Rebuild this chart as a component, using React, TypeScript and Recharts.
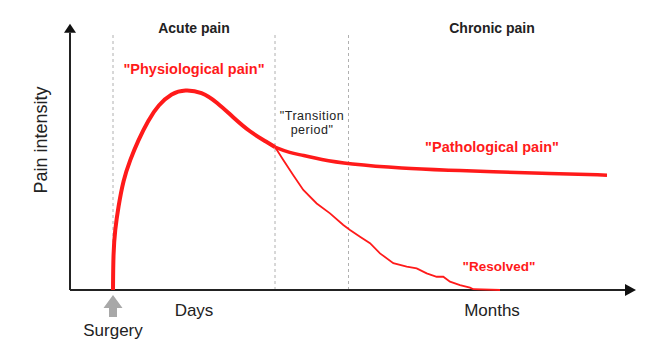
import { Line, LineChart, ReferenceDot, ReferenceLine, XAxis, YAxis } from "recharts";

// time axis is in arbitrary units, surgery at 43
const acuteX = [43, 43.3, 45, 48.3, 53.3, 60, 68.3, 78.3, 88.3, 101.7, 115, 131.7, 147, 163, 180, 197, 205];
const acuteY = [0, 14.2, 23.1, 31.9, 42.3, 50, 57.7, 65.4, 71.2, 75.8, 77.2, 76.3, 72.3, 66.5, 60.8, 56.9, 55];

const chronicX = [205, 220, 233, 250, 278, 333, 380, 420, 480, 537];
const chronicY = [55, 52.7, 51.9, 50.2, 48.5, 46.8, 46.1, 45.5, 44.9, 44.2];

const resolvedX = [205, 213.3, 223.3, 233.3, 246.7, 260, 273.3, 280, 290, 300, 310, 323.3, 336.7, 346.7, 356.7, 366.7, 373.3, 380, 390, 400, 403.3, 430];
const resolvedY = [55, 50, 44.2, 38.5, 33.3, 29.5, 25, 23.1, 20.5, 18, 14.1, 10.3, 9, 8.3, 6.4, 5.1, 5.1, 3.2, 1.9, 0.9, 0.3, 0];

const phaseX = [43, 205, 278.5];
const tickX = [43, 124, 422];
const tickLabels = ["Surgery", "Days", "Months"];

const acute = acuteX.map((x, i) => ({ x, y: acuteY[i] }));
const chronic = chronicX.map((x, i) => ({ x, y: chronicY[i] }));
const resolved = resolvedX.map((x, i) => ({ x, y: resolvedY[i] }));

const RED = "#ff1a1a";
const FONT = "'Liberation Sans', Arial, sans-serif";

const notes = [
  { x: 124, y: 98.8, text: "Acute pain", color: "#222", size: 14, bold: true },
  { x: 422, y: 98.8, text: "Chronic pain", color: "#222", size: 14, bold: true },
  { x: 124, y: 83.1, text: "\"Physiological pain\"", color: RED, size: 14.5, bold: true },
  { x: 422, y: 53.1, text: "\"Pathological pain\"", color: RED, size: 14.5, bold: true },
  { x: 429, y: 7.3, text: "\"Resolved\"", color: RED, size: 13.5, bold: true },
];

const Note = (n: (typeof notes)[number]) => (props: any) => (
  <text x={props.cx} y={props.cy} textAnchor="middle" fill={n.color} fontSize={n.size} fontWeight={n.bold ? 700 : 400} fontFamily={FONT}>
    {n.text}
  </text>
);

const Tick = ({ x, y, index }: any) => {
  if (index === 0) {
    return (
      <g>
        <polygon points={`${x},${y + 5} ${x + 9.5},${y + 18} ${x + 4},${y + 18} ${x + 4},${y + 27} ${x - 4},${y + 27} ${x - 4},${y + 18} ${x - 9.5},${y + 18}`} fill="#a8a8a8" />
        <text x={x} y={y + 46} textAnchor="middle" fontSize={17} fill="#222" fontFamily={FONT}>{tickLabels[index]}</text>
      </g>
    );
  }
  return <text x={x} y={y + 26} textAnchor="middle" fontSize={17} fill="#222" fontFamily={FONT}>{tickLabels[index]}</text>;
};

export default function App() {
  return (
    <div style={{ position: "absolute", left: 0, top: 0, background: "#fff" }}>
      <LineChart width={648} height={356} margin={{ top: 25, right: 12, bottom: 0, left: 0 }}>
        <XAxis type="number" dataKey="x" domain={[0, 566]} ticks={tickX} interval={0} tick={<Tick />} axisLine={false} tickLine={false} tickSize={0} tickMargin={0} height={66} />
        <YAxis
          type="number"
          domain={[0, 102]}
          width={70}
          axisLine={false}
          tickLine={false}
          tick={false}
          label={{
            content: () => (
              <text transform="translate(47,140) rotate(-90)" textAnchor="middle" fontSize={18} fill="#222" fontFamily={FONT}>
                Pain intensity
              </text>
            ),
          }}
        />
        {phaseX.map((x) => (
          <ReferenceLine key={x} segment={[{ x, y: 0 }, { x, y: 99.2 }]} stroke="#b0b0b0" strokeDasharray="3 3" strokeWidth={1} />
        ))}
        <ReferenceLine segment={[{ x: 0, y: 0 }, { x: 556, y: 0 }]} stroke="#222" strokeWidth={2} />
        <ReferenceLine segment={[{ x: 0, y: 0 }, { x: 0, y: 99 }]} stroke="#222" strokeWidth={2} />
        <ReferenceDot x={555} y={0} shape={(p: any) => <polygon points={`${p.cx},${p.cy - 6} ${p.cx + 11},${p.cy} ${p.cx},${p.cy + 6}`} fill="#111" />} />
        <ReferenceDot x={0} y={99} shape={(p: any) => <polygon points={`${p.cx - 6},${p.cy} ${p.cx},${p.cy - 9} ${p.cx + 6},${p.cy}`} fill="#111" />} />
        <Line data={resolved} dataKey="y" type="linear" stroke={RED} strokeWidth={1.8} dot={false} activeDot={false} isAnimationActive={false} />
        <Line data={chronic} dataKey="y" type="basis" stroke={RED} strokeWidth={3.5} dot={false} activeDot={false} isAnimationActive={false} />
        <Line data={acute} dataKey="y" type="basis" stroke={RED} strokeWidth={4} dot={false} activeDot={false} isAnimationActive={false} />
        {notes.map((n) => (
          <ReferenceDot key={n.text} x={n.x} y={n.y} ifOverflow="visible" shape={Note(n)} />
        ))}
        <ReferenceDot
          x={242}
          y={65.5}
          shape={(p: any) => (
            <text x={p.cx} y={p.cy} textAnchor="middle" fontSize={12.5} letterSpacing={0.5} fill="#222" fontFamily={FONT}>
              <tspan x={p.cx}>"Transition</tspan>
              <tspan x={p.cx} dy={14}>period"</tspan>
            </text>
          )}
        />
      </LineChart>
    </div>
  );
}
